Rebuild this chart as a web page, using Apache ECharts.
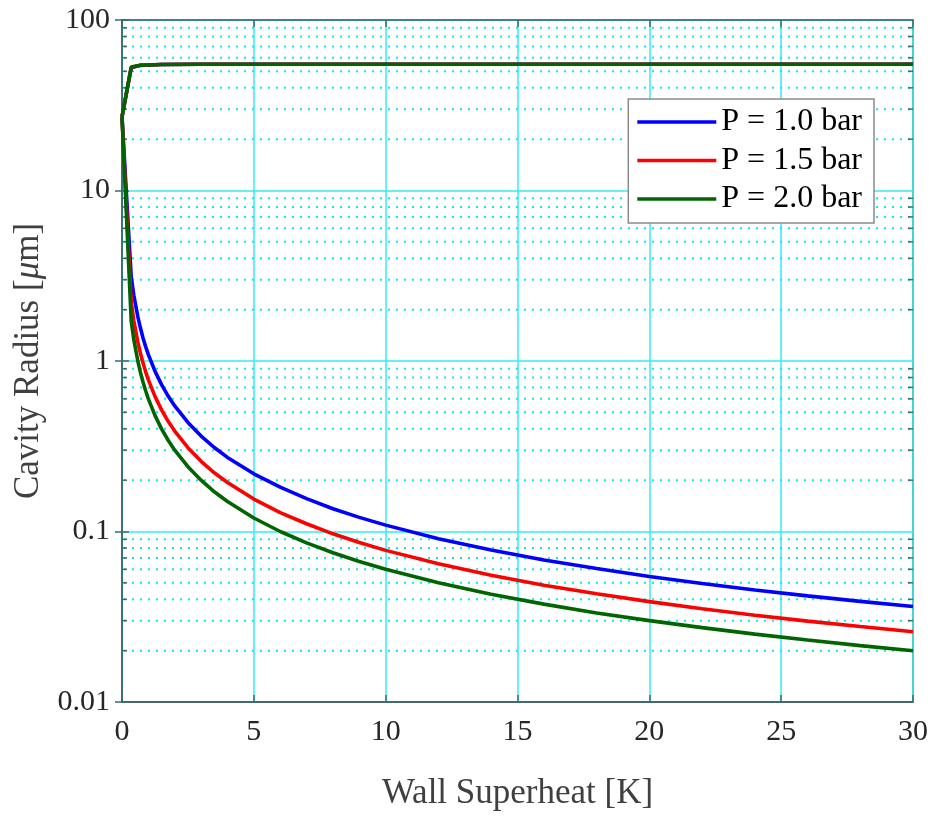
<!DOCTYPE html>
<html><head><meta charset="utf-8">
<script src="https://cdn.jsdelivr.net/npm/echarts@6/dist/echarts.min.js"></script>
<style>html,body{margin:0;padding:0;background:#fff}#c{width:933px;height:816px}</style>
</head><body><div id="c"></div>
<script>
// ---- data ----
const xLower = [0,0.35,0.45,0.6,0.7,0.8,0.9,1,1.25,1.5,1.75,2,2.5,3,3.5,4,5,6,7,8,9,10,12,14,16,18,20,22,24,26,28,30];
const blueLower = [27,3.11,2.42,1.82,1.56,1.36,1.21,1.09,0.872,0.727,0.623,0.545,0.436,0.363,0.311,0.272,0.218,0.182,0.156,0.136,0.121,0.109,0.0908,0.0779,0.0681,0.0606,0.0545,0.0495,0.0454,0.0419,0.0389,0.0363];
const redLower = [27,2.21,1.72,1.29,1.11,0.969,0.861,0.775,0.62,0.517,0.443,0.388,0.31,0.258,0.221,0.194,0.155,0.129,0.111,0.0969,0.0861,0.0775,0.0646,0.0554,0.0484,0.0431,0.0388,0.0352,0.0323,0.0298,0.0277,0.0258];
const greenLower = [27,1.71,1.33,1.0,0.857,0.75,0.667,0.6,0.48,0.4,0.343,0.3,0.24,0.2,0.171,0.15,0.12,0.1,0.0857,0.075,0.0667,0.06,0.05,0.0429,0.0375,0.0333,0.03,0.0273,0.025,0.0231,0.0214,0.02];
const xUpper = [0,0.35,0.7,1.5,3,30];
const blueUpper = [27,52.5,54.2,54.8,55,55];
const redUpper = [27,52.8,54.3,54.8,55,55];
const greenUpper = [27,53,54.3,54.8,55,55];
const seriesNames = ['P = 1.0 bar','P = 1.5 bar','P = 2.0 bar'];
const seriesColors = ['#0000ff','#ff0000','#006400'];
const yTickLabels = {'0.01':'0.01','0.1':'0.1','1':'1','10':'10','100':'100'};
const yMinorValues = [0.02,0.03,0.04,0.05,0.06,0.07,0.08,0.09,0.2,0.3,0.4,0.5,0.6,0.7,0.8,0.9,2,3,4,5,6,7,8,9,20,30,40,50,60,70,80,90];

const FONT = 'Liberation Serif, Times New Roman, serif';
const AX = '#3a6e6e';
const CY = '#33eeee';
const CYD = '#10e8f0';

function pairs(xs, ys){ return xs.map((x,i)=>[x, ys[i]]); }
function lineSeries(name, color, xs, ys, z){
  return {name, type:'line', data: pairs(xs, ys), symbol:'none', showSymbol:false,
    lineStyle:{color, width:3.6}, itemStyle:{color}, z, animation:false};
}

const chart = echarts.init(document.getElementById('c'), null, {renderer:'canvas'});
const option = {
  animation:false,
  grid:{left:122, right:20, top:20, bottom:112, show:true, borderColor:AX, borderWidth:1.5, backgroundColor:'transparent'},
  legend:{
    data: seriesNames, orient:'vertical', right:59, top:99,
    icon:'rect', itemWidth:79, itemHeight:3.6, itemGap:6.5, padding:[7,12,8,9],
    backgroundColor:'#fff', borderColor:'#8a8a8a', borderWidth:1.5,
    textStyle:{fontFamily:FONT, fontSize:32, color:'#000', lineHeight:32}
  },
  xAxis:[{
    type:'value', min:0, max:30, interval:5, position:'bottom',
    axisLine:{show:true, onZero:false, lineStyle:{color:'#404848', width:1.5}},
    axisTick:{show:true, inside:true, length:7, lineStyle:{color:AX, width:1.5}},
    axisLabel:{fontFamily:FONT, fontSize:30, color:'#262626', margin:15},
    splitLine:{show:true, lineStyle:{color:CY, width:1.5}},
    name:'Wall Superheat [K]', nameLocation:'middle', nameGap:74,
    nameTextStyle:{fontFamily:FONT, fontSize:35, color:'#404040'}
  },{
    type:'value', min:0, max:30, interval:5, position:'top',
    axisLine:{show:true, onZero:false, lineStyle:{color:AX, width:1.5}},
    axisTick:{show:true, inside:true, length:7, lineStyle:{color:AX, width:1.5}},
    axisLabel:{show:false}, splitLine:{show:false}
  }],
  yAxis:[{
    type:'log', logBase:10, min:0.01, max:100, position:'left',
    axisLine:{show:true, lineStyle:{color:AX, width:1.5}},
    axisTick:{show:true, inside:true, length:7, lineStyle:{color:AX, width:1.5}},
    axisLabel:{fontFamily:FONT, fontSize:30, color:'#262626', margin:12,
      formatter:(v)=>{ const k = String(+v.toPrecision(3)); return yTickLabels[k] !== undefined ? yTickLabels[k] : k; }},
    splitLine:{show:true, lineStyle:{color:CY, width:1.5}},
    minorTick:{show:false}, minorSplitLine:{show:false},
    name:'Cavity Radius [{i|μ}m]', nameLocation:'middle', nameGap:75,
    nameTextStyle:{fontFamily:FONT, fontSize:35, color:'#404040',
      rich:{i:{fontFamily:FONT, fontSize:35, fontStyle:'italic', color:'#404040'}}}
  },{
    type:'log', logBase:10, min:0.01, max:100, position:'right',
    axisLine:{show:true, lineStyle:{color:AX, width:1.5}},
    axisTick:{show:true, inside:true, length:7, lineStyle:{color:AX, width:1.5}},
    axisLabel:{show:false}, splitLine:{show:false}
  }],
  series:[
    {
      type:'custom', name:'minor', silent:true, z:1,
      data: yMinorValues.map(v=>[0, v]),
      encode:{x:0, y:1},
      renderItem:function(params, api){
        const v = api.value(1);
        const a = api.coord([0, v]);
        const b = api.coord([30, v]);
        return {type:'group', children:[
          {type:'line', shape:{x1:a[0]+2, y1:a[1], x2:b[0]-2, y2:b[1]},
            style:{stroke:CYD, lineWidth:2, lineDash:[2,6]}},
          {type:'line', shape:{x1:a[0], y1:a[1], x2:a[0]+5, y2:a[1]},
            style:{stroke:AX, lineWidth:1.5}},
          {type:'line', shape:{x1:b[0]-5, y1:b[1], x2:b[0], y2:b[1]},
            style:{stroke:AX, lineWidth:1.5}}
        ]};
      }
    },
    lineSeries(seriesNames[0], seriesColors[0], xLower, blueLower, 3),
    lineSeries(seriesNames[1], seriesColors[1], xLower, redLower, 4),
    lineSeries(seriesNames[2], seriesColors[2], xLower, greenLower, 5),
    lineSeries(seriesNames[0], seriesColors[0], xUpper, blueUpper, 3),
    lineSeries(seriesNames[1], seriesColors[1], xUpper, redUpper, 4),
    lineSeries(seriesNames[2], seriesColors[2], xUpper, greenUpper, 5)
  ]
};
chart.setOption(option);
</script>
</body></html>
